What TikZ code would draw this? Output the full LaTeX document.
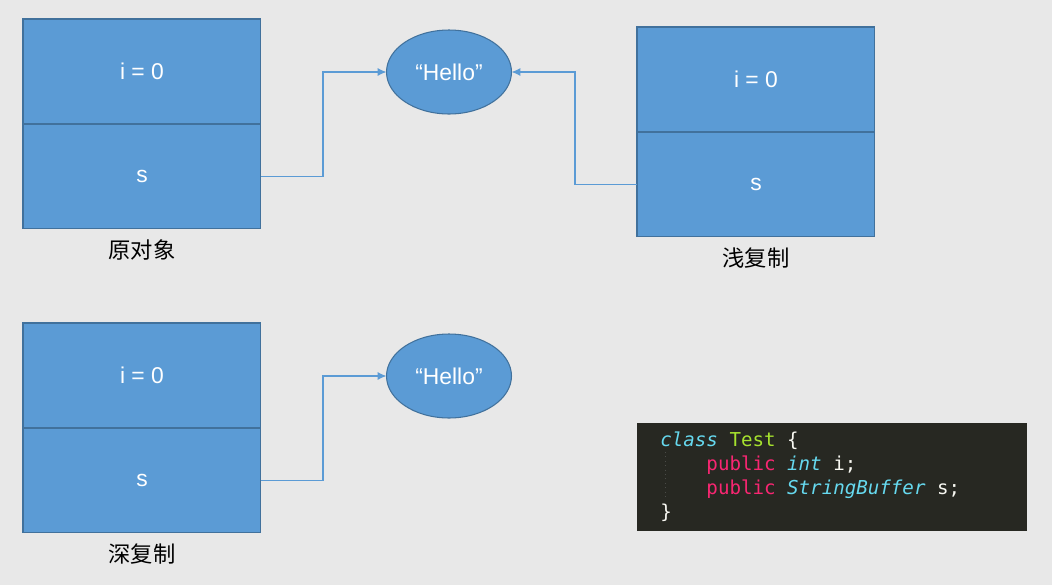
\documentclass[tikz,border=0pt]{standalone}
\usepackage{fontspec}
\setmainfont{Liberation Sans}
\newfontfamily\cjk{Noto Sans CJK SC}
\newfontfamily\codefont{DejaVu Sans Mono}
\usetikzlibrary{shapes.geometric,arrows.meta}
\definecolor{cellblue}{HTML}{5B9BD5}
\definecolor{celledge}{HTML}{41719C}
\definecolor{pagegray}{HTML}{E8E8E8}
\definecolor{codebg}{HTML}{272822}
\definecolor{kwcyan}{HTML}{66D9EF}
\definecolor{kwgreen}{HTML}{A6E22E}
\definecolor{kwpink}{HTML}{F92672}
\definecolor{codetext}{HTML}{F8F8F2}

\tikzset{
  cell/.style={draw=celledge, fill=cellblue, text=white, line width=0.6pt,
    minimum width=4.76cm, minimum height=2.1cm, inner sep=0pt, outer sep=0pt,
    font=\fontsize{13}{15}\selectfont},
  strobj/.style={ellipse, draw=celledge, fill=cellblue, text=white, line width=0.6pt,
    minimum width=2.5cm, minimum height=1.68cm, inner sep=0pt, outer sep=0pt,
    font=\fontsize{13}{15}\selectfont},
  caption/.style={font=\cjk\fontsize{12.7}{15}\selectfont, text=black},
  link/.style={draw=cellblue, line width=0.7pt, -{Latex[length=5pt,width=4.5pt]}},
  codeline/.style={anchor=base west, inner sep=0pt, text=codetext,
    font=\codefont\fontsize{10.9}{13}\selectfont},
}

% An object with its two fields: name, upper left corner x, y, caption
\newcommand{\objectbox}[4]{
  \node[cell, anchor=north west] (#1-i) at (#2,#3) {i = 0};
  \node[cell, anchor=north] (#1-s) at (#1-i.south) {s};
  \node[caption] (#1-cap) at ([yshift=-0.42cm]#1-s.south) {#4};
}

\begin{document}
\begin{tikzpicture}[x=0.02cm,y=-0.02cm]
  % The page
  \useasboundingbox (0,0) rectangle (1052,585);
  \fill[pagegray] (0,0) rectangle (1052,585);

  % Original object and its shallow copy
  \objectbox{orig}{23}{19}{原对象}
  \objectbox{shallow}{637}{27}{浅复制}
  \node[strobj] (hello) at (449,72) {“Hello”};

  % Both point to the same string
  \draw[link] (orig-s.east) -- ++(62,0) |- (hello.west);
  \draw[link] (shallow-s.west) -- ++(-62,0) |- (hello.east);

  % Deep copy with its own string
  \objectbox{deep}{23}{323}{深复制}
  \node[strobj] (hello2) at (449,376) {“Hello”};
  \draw[link] (deep-s.east) -- ++(62,0) |- (hello2.west);

  % The class
  \node[fill=codebg, anchor=north west, minimum width=7.8cm, minimum height=2.16cm,
    inner sep=0pt] (code) at (637,423) {};
  \draw[gray!40!codebg, dotted, line width=0.5pt] (665,452) -- (665,500);
  \node[codeline] (code1) at (660,446)
    {\textcolor{kwcyan}{\itshape class} \textcolor{kwgreen}{Test} \{};
  \node[codeline] (code2) at (660,470)
    {\hphantom{0000}\textcolor{kwpink}{public} \textcolor{kwcyan}{\itshape int} i;};
  \node[codeline] (code3) at (660,494)
    {\hphantom{0000}\textcolor{kwpink}{public} \textcolor{kwcyan}{\itshape StringBuffer} s;};
  \node[codeline] (code4) at (660,518) {\}};
\end{tikzpicture}
\end{document}
